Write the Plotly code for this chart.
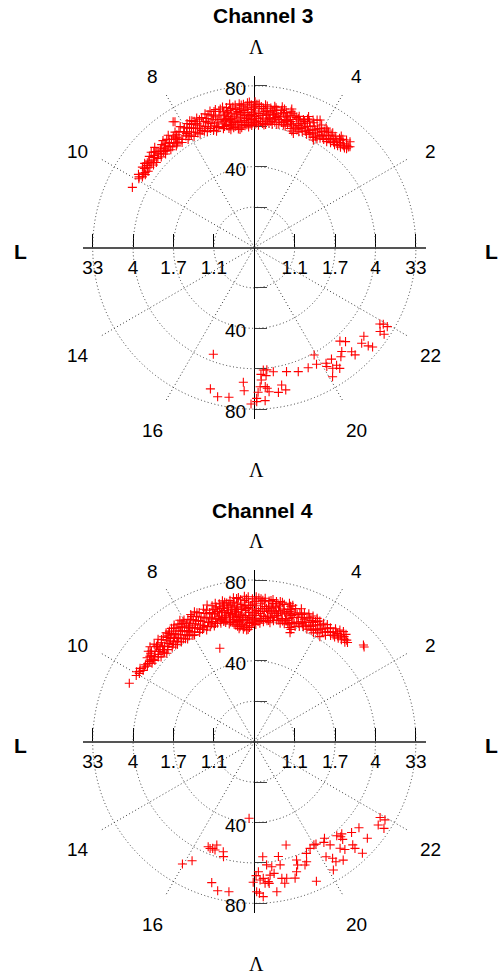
import numpy as np
import plotly.graph_objects as go

W, H = 502, 971
S = 2.02                      # pixels per degree of latitude
CENTERS = [(254.3, 247.5), (254.3, 741.7)]   # pixel positions of the two pole centres
AX_LIM = 85
GRID_LIM = 88

titles = ["Channel 3", "Channel 4"]
lat_tickvals = [-80, -60, -40, -20, 20, 40, 60, 80]
l_ticktext = ["33", "4", "1.7", "1.1", "1.1", "1.7", "4", "33"]
lat_ticktext = ["80", "", "40", "", "", "40", "", "80"]
mlt_labels = [2, 4, 8, 10, 14, 16, 20, 22]
grid_lats = [20, 40, 60, 80]
grid_mlts = [2, 4, 8, 10, 14, 16, 20, 22]

# (MLT hours, invariant latitude deg)
ch3_arc = [(10.25,67.3),(9.95,66.5),(9.85,65.5),(9.85,67.8),(9.75,66.1),(9.75,64.9),(9.62,64.7),(9.62,67.0),(9.62,68.2),(9.5,65.2),(9.5,66.8),(9.5,68.4),(9.38,64.5),(9.38,66.0),(9.38,67.5),(9.27,66.1),(9.27,64.2),(9.27,68.8),(9.15,65.0),(9.15,67.2),(9.15,69.5),(9.05,64.3),(9.05,66.4),(9.05,68.0),(8.99,69.9),(8.99,65.5),(8.9,65.4),(8.9,67.3),(8.9,63.8),(8.8,66.2),(8.8,68.5),(8.8,64.6),(8.7,63.6),(8.7,65.7),(8.7,67.9),(8.7,69.6),(8.6,64.2),(8.6,66.8),(8.6,68.9),(8.5,63.4),(8.5,65.3),(8.5,67.4),(8.5,70.0),(8.4,64.6),(8.4,66.5),(8.4,68.2),(8.3,63.1),(8.3,65.8),(8.3,67.7),(8.3,69.3),(8.19,74.1),(8.15,73.6),(8.1,62.7),(8.1,64.8),(8.1,66.9),(8.1,70.2),(8.02,66.4),(8.02,63.9),(8.02,68.6),(7.9,62.5),(7.9,65.1),(7.9,67.3),(7.9,69.8),(7.8,64.0),(7.8,66.2),(7.8,68.4),(7.8,70.4),(7.7,62.3),(7.7,65.5),(7.7,67.8),(7.7,69.2),(7.6,63.4),(7.6,66.0),(7.6,70.1),(7.47,67.2),(7.47,64.6),(7.47,61.9),(7.47,69.4),(7.35,62.8),(7.35,65.8),(7.35,68.1),(7.35,70.5),(7.2,60.5),(7.2,63.6),(7.2,66.5),(7.2,69.0),(7.2,71.0),(7.1,61.9),(7.1,64.7),(7.1,67.4),(7.1,70.2),(6.97,67.8),(6.97,60.8),(6.97,63.2),(6.97,65.5),(6.97,69.7),(6.85,62.0),(6.85,64.3),(6.85,66.9),(6.85,68.8),(6.85,71.3),(6.75,59.4),(6.75,61.3),(6.75,63.7),(6.75,66.2),(6.75,68.3),(6.75,70.6),(6.65,60.2),(6.65,62.8),(6.65,65.0),(6.65,67.5),(6.65,69.8),(6.65,72.0),(6.51,71.2),(6.51,59.2),(6.51,61.6),(6.51,64.2),(6.51,66.6),(6.51,68.9),(6.4,59.6),(6.4,62.3),(6.4,64.8),(6.4,67.2),(6.4,69.4),(6.4,71.5),(6.29,71.1),(6.29,60.5),(6.29,63.1),(6.29,65.6),(6.29,68.1),(6.29,70.1),(6.18,59.8),(6.18,62.0),(6.18,64.6),(6.18,66.9),(6.18,69.2),(6.18,71.7),(6.08,60.4),(6.08,63.3),(6.08,65.9),(6.08,68.3),(6.08,70.6),(5.98,61.0),(5.98,62.7),(5.98,64.9),(5.98,67.6),(5.98,69.9),(5.98,72.1),(5.87,60.6),(5.87,63.8),(5.87,66.3),(5.87,68.7),(5.87,71.0),(5.75,69.0),(5.75,61.6),(5.75,64.2),(5.75,66.6),(5.65,61.2),(5.65,63.5),(5.65,65.8),(5.65,68.2),(5.65,70.3),(5.55,62.0),(5.55,64.5),(5.55,67.1),(5.55,69.5),(5.45,61.5),(5.45,63.9),(5.45,66.4),(5.45,68.6),(5.45,70.6),(5.38,69.0),(5.38,62.8),(5.38,65.2),(5.38,67.4),(5.25,62.2),(5.25,64.6),(5.25,66.9),(5.25,69.2),(5.25,71.0),(5.11,62.3),(5.11,64.2),(5.11,66.4),(5.11,68.7),(4.99,71.0),(4.99,63.0),(4.99,65.5),(4.99,67.8),(4.99,69.9),(4.88,61.5),(4.88,63.8),(4.88,66.2),(4.88,68.4),(4.74,59.7),(4.74,62.6),(4.74,65.0),(4.74,67.3),(4.74,68.6),(4.6,63.2),(4.6,61.4),(4.6,65.7),(4.6,67.9),(4.5,62.0),(4.5,64.4),(4.5,66.6),(4.5,68.8),(4.5,70.2),(4.35,69.5),(4.35,61.8),(4.35,63.9),(4.35,66.1),(4.25,62.5),(4.25,64.8),(4.25,67.0),(4.25,70.3),(4.18,71.0),(4.18,63.4),(4.18,65.6),(4.08,60.7),(4.08,62.9),(4.08,65.1),(4.08,67.3),(4.08,69.2),(3.93,63.1),(3.93,65.0),(3.93,67.2),(3.93,69.0),(3.82,63.6),(3.82,65.8),(3.82,67.9),(3.71,63.5),(3.71,65.4),(3.71,67.4),(3.71,68.8),(3.6,64.2),(3.6,66.3),(3.6,68.1),(3.47,66.4),(3.47,64.6),(3.47,68.6),(3.47,70.0),(3.38,65.1),(3.38,67.1),(3.38,69.2),(3.29,70.1),(3.29,65.5),(3.29,67.6),(3.19,70.6),(3.19,66.5),(3.19,68.3),(3.13,68.2),(3.13,66.9),(3.1,68.8)]

ch3_arc_extra = [(9.9,66.9),(9.7,65.6),(9.56,66.0),(9.44,67.6),(9.33,65.3),(9.2,66.6),(9.1,68.6),(8.95,66.8),(8.85,64.9),(8.75,67.0),(8.65,65.2),(8.55,68.1),(8.45,64.0),(8.35,66.9),(8.25,64.4),(8.2,68.5),(8.05,65.6),(7.95,63.8),(7.95,68.2),(7.85,66.8),(7.75,63.2),(7.75,69.9),(7.65,64.7),(7.65,67.4),(7.55,62.6),(7.55,68.8),(7.4,66.9),(7.4,63.9),(7.28,61.4),(7.28,65.0),(7.28,69.6),(7.15,62.7),(7.15,68.2),(7.05,66.0),(7.05,71.0),(6.92,61.7),(6.92,64.4),(6.92,70.6),(6.8,60.3),(6.8,65.3),(6.8,67.6),(6.7,62.0),(6.7,64.5),(6.7,69.0),(6.58,60.8),(6.58,63.3),(6.58,65.8),(6.58,70.4),(6.46,58.9),(6.46,63.0),(6.46,67.9),(6.35,61.1),(6.35,66.3),(6.35,70.8),(6.23,60.9),(6.23,63.9),(6.23,68.6),(6.13,61.2),(6.13,65.3),(6.13,72.0),(6.03,62.0),(6.03,66.7),(6.03,69.4),(5.93,61.7),(5.93,64.0),(5.93,70.9),(5.81,62.5),(5.81,65.4),(5.81,69.9),(5.7,60.8),(5.7,67.5),(5.7,70.9),(5.6,63.0),(5.6,66.0),(5.5,62.9),(5.5,68.0),(5.41,64.5),(5.41,70.0),(5.31,61.9),(5.31,66.0),(5.18,63.4),(5.18,68.0),(5.18,70.2),(5.05,62.0),(5.05,64.8),(5.05,67.0),(4.93,64.9),(4.93,69.2),(4.81,60.6),(4.81,63.2),(4.81,67.6),(4.67,62.0),(4.67,64.3),(4.67,66.6),(4.55,63.5),(4.55,67.2),(4.42,62.9),(4.42,65.4),(4.42,68.0),(4.3,63.1),(4.3,68.4),(4.13,61.8),(4.13,66.5),(4.0,62.0),(4.0,64.2),(4.0,66.4),(3.88,64.5),(3.88,68.4),(3.76,66.6),(3.65,65.2),(3.54,65.4),(3.54,67.3),(3.42,68.1),(3.33,66.2),(3.24,67.0)]

ch3_night = [(16.6,56.6),(16.85,73.3),(17.08,76.1),(17.36,75.2),(17.69,66.9),(17.73,71.1),(17.92,77.5),(18.06,74.7),(18.06,76.3),(18.1,71.7),(18.16,69.0),(18.2,65.7),(18.2,62.9),(18.28,60.8),(18.35,63.7),(18.3,69.1),(18.35,70.0),(18.27,76.0),(18.39,71.8),(18.58,62.2),(18.39,60.9),(18.63,72.7),(18.75,69.4),(18.83,72.2),(18.97,63.5),(19.3,65.2),(19.61,65.2),(19.87,65.5),(19.94,60.9),(20.12,67.4),(20.09,69.0),(20.31,67.2),(20.2,71.3),(20.08,74.8),(20.33,71.1),(20.35,73.3),(20.56,69.0),(20.67,67.3),(20.83,62.8),(20.94,64.9),(20.87,70.6),(20.88,72.9),(21.22,71.2),(21.4,69.8),(21.28,74.5),(21.33,76.5),(21.91,72.8),(21.95,74.3),(21.95,76.6),(21.75,74.9),(21.75,77.3)]

ch4_arc = [(10.33,68.3),(10.05,67.0),(9.95,67.8),(9.95,66.2),(9.82,67.2),(9.82,65.4),(9.65,66.0),(9.65,64.8),(9.5,63.8),(9.5,65.2),(9.46,65.6),(9.46,67.4),(9.38,64.4),(9.38,66.8),(9.38,63.6),(9.3,67.4),(9.3,65.0),(9.3,69.0),(9.18,69.8),(9.18,62.4),(9.18,64.2),(9.18,66.4),(9.05,63.0),(9.05,65.3),(9.05,67.6),(9.05,69.2),(8.98,61.6),(8.98,64.0),(8.98,66.3),(8.88,62.5),(8.88,64.9),(8.88,67.2),(8.88,69.6),(8.73,68.8),(8.73,62.0),(8.73,64.4),(8.73,66.5),(8.6,61.8),(8.6,63.6),(8.6,65.8),(8.6,67.8),(8.6,69.4),(8.5,62.6),(8.5,64.9),(8.5,67.1),(8.5,69.0),(8.41,69.5),(8.41,61.2),(8.41,63.5),(8.41,66.0),(8.3,62.0),(8.3,64.2),(8.3,66.5),(8.3,68.3),(8.3,70.1),(8.2,60.6),(8.2,63.1),(8.2,65.4),(8.2,67.6),(8.2,69.4),(8.1,61.5),(8.1,63.9),(8.1,66.2),(8.1,68.6),(8.1,70.5),(8.0,60.8),(8.0,62.7),(8.0,65.0),(8.0,67.3),(8.0,69.6),(7.9,61.9),(7.9,64.3),(7.9,66.8),(7.9,68.9),(7.77,69.2),(7.77,60.5),(7.77,62.8),(7.77,65.2),(7.77,67.5),(7.77,70.4),(7.65,61.2),(7.65,63.6),(7.65,66.0),(7.65,68.3),(7.65,70.8),(7.54,60.1),(7.54,62.5),(7.54,64.8),(7.54,67.1),(7.54,69.5),(7.4,61.0),(7.4,63.3),(7.4,65.6),(7.4,68.0),(7.4,70.2),(7.35,49.3),(7.27,71.6),(7.27,60.6),(7.27,62.9),(7.27,65.2),(7.27,67.7),(7.15,61.4),(7.15,63.8),(7.15,66.3),(7.15,68.7),(7.15,70.5),(7.05,60.9),(7.05,62.2),(7.05,64.6),(7.05,67.0),(7.05,69.3),(7.05,71.2),(6.95,68.9),(6.95,61.4),(6.95,63.5),(6.95,65.9),(6.95,70.4),(6.85,61.8),(6.85,64.2),(6.85,66.6),(6.85,69.0),(6.85,71.5),(6.75,60.5),(6.75,62.8),(6.75,65.2),(6.75,67.6),(6.75,70.0),(6.65,59.0),(6.65,61.3),(6.65,63.8),(6.65,66.2),(6.65,68.6),(6.65,71.0),(6.55,57.8),(6.55,60.2),(6.55,62.6),(6.55,65.0),(6.55,67.4),(6.55,69.8),(6.55,72.0),(6.47,57.4),(6.47,59.6),(6.47,61.9),(6.47,64.3),(6.47,66.7),(6.47,69.1),(6.47,71.4),(6.37,56.0),(6.37,58.2),(6.37,60.8),(6.37,63.4),(6.37,65.8),(6.37,68.2),(6.37,70.6),(6.26,55.4),(6.26,57.5),(6.26,60.0),(6.26,62.6),(6.26,65.1),(6.26,67.6),(6.26,70.0),(6.26,72.2),(6.16,71.8),(6.16,56.6),(6.16,59.0),(6.16,61.5),(6.16,64.0),(6.16,66.5),(6.16,69.1),(6.05,58.5),(6.05,60.8),(6.05,63.2),(6.05,65.7),(6.05,68.1),(6.05,70.7),(5.95,58.0),(5.95,60.2),(5.95,62.5),(5.95,64.9),(5.95,67.3),(5.95,69.6),(5.95,71.8),(5.82,58.7),(5.82,61.0),(5.82,63.5),(5.82,66.0),(5.82,68.4),(5.82,70.8),(5.71,71.2),(5.71,59.6),(5.71,62.2),(5.71,64.7),(5.71,67.1),(5.71,69.5),(5.6,60.2),(5.6,62.6),(5.6,65.0),(5.6,67.5),(5.6,70.0),(5.5,59.4),(5.5,61.8),(5.5,64.2),(5.5,66.6),(5.5,69.0),(5.5,71.0),(5.4,60.6),(5.4,63.0),(5.4,65.4),(5.4,67.9),(5.4,70.2),(5.3,61.2),(5.3,63.5),(5.3,65.9),(5.3,68.3),(5.3,70.6),(5.18,60.0),(5.18,62.4),(5.18,64.8),(5.18,67.2),(5.18,69.6),(5.05,70.7),(5.05,60.3),(5.05,62.7),(5.05,65.2),(5.05,67.6),(4.95,61.0),(4.95,63.4),(4.95,65.8),(4.95,68.1),(4.95,70.2),(4.85,59.2),(4.85,61.8),(4.85,64.3),(4.85,66.7),(4.85,69.0),(4.79,56.8),(4.79,58.5),(4.7,60.5),(4.7,62.9),(4.7,65.3),(4.7,67.6),(4.7,69.8),(4.58,61.3),(4.58,63.7),(4.58,66.0),(4.58,68.3),(4.46,61.9),(4.46,64.2),(4.46,66.5),(4.46,68.8),(4.33,68.7),(4.33,61.5),(4.33,63.8),(4.33,66.2),(4.2,62.0),(4.2,64.4),(4.2,66.7),(4.2,68.5),(4.1,61.4),(4.1,63.6),(4.1,65.9),(4.1,68.0),(3.98,67.9),(3.98,62.3),(3.98,64.6),(3.87,61.3),(3.87,63.9),(3.87,66.2),(3.87,68.3),(3.75,63.4),(3.75,65.6),(3.75,67.8),(3.62,64.7),(3.62,66.9),(3.62,68.9),(3.57,65.7),(3.5,65.3),(3.5,67.5),(3.5,69.6),(3.4,70.1),(3.4,66.0),(3.4,68.0),(3.3,66.4),(3.3,68.4),(3.3,69.9),(3.18,68.0),(3.18,66.6),(3.12,67.4),(2.77,72.2),(2.72,71.8)]

ch4_arc_extra = [(9.9,66.6),(9.72,65.8),(9.58,65.4),(9.42,64.8),(9.34,66.2),(9.24,63.4),(9.24,67.9),(9.12,65.2),(9.0,62.8),(9.0,67.8),(8.93,65.4),(8.82,63.7),(8.82,68.3),(8.66,62.8),(8.66,65.0),(8.66,67.3),(8.55,61.4),(8.55,68.3),(8.45,64.0),(8.45,66.6),(8.36,62.6),(8.36,68.9),(8.25,61.3),(8.25,65.9),(8.15,62.3),(8.15,67.2),(8.05,64.0),(8.05,69.0),(7.95,60.6),(7.95,65.7),(7.84,63.6),(7.84,68.2),(7.72,61.8),(7.72,66.4),(7.6,62.1),(7.6,65.4),(7.6,69.8),(7.47,61.5),(7.47,66.2),(7.33,62.0),(7.33,64.6),(7.33,69.2),(7.21,61.6),(7.21,66.6),(7.1,63.2),(7.1,68.1),(7.0,62.6),(7.0,66.5),(6.9,60.7),(6.9,63.0),(6.9,67.9),(6.8,59.6),(6.8,65.5),(6.8,70.6),(6.7,60.0),(6.7,64.5),(6.7,69.3),(6.6,58.5),(6.6,63.5),(6.6,68.0),(6.51,56.5),(6.51,60.6),(6.51,66.0),(6.42,58.6),(6.42,63.0),(6.42,71.8),(6.32,57.0),(6.32,61.9),(6.32,67.0),(6.21,55.6),(6.21,60.4),(6.21,66.0),(6.21,70.9),(6.1,57.4),(6.1,62.4),(6.1,67.4),(6.0,59.3),(6.0,64.1),(6.0,69.3),(5.88,59.6),(5.88,64.6),(5.88,71.2),(5.77,61.0),(5.77,65.8),(5.77,70.1),(5.65,61.4),(5.65,66.3),(5.55,60.4),(5.55,65.6),(5.55,70.4),(5.45,62.2),(5.45,67.0),(5.35,64.6),(5.35,69.3),(5.24,61.3),(5.24,66.0),(5.24,70.4),(5.12,61.4),(5.12,65.8),(5.0,62.2),(5.0,66.8),(5.0,69.4),(4.9,60.4),(4.9,65.2),(4.76,61.8),(4.76,66.5),(4.64,62.4),(4.64,67.2),(4.52,63.0),(4.52,65.5),(4.4,62.8),(4.4,67.4),(4.27,63.4),(4.27,65.7),(4.15,62.7),(4.15,67.3),(4.04,63.4),(4.04,66.4),(3.93,65.0),(3.81,64.6),(3.81,66.8),(3.68,65.9),(3.56,67.8),(3.45,66.8),(3.35,67.4),(3.24,67.6)]

ch4_night = [(17.74,38.0),(16.58,56.7),(16.5,57.2),(16.67,57.0),(16.42,56.8),(16.67,54.4),(16.95,56.6),(17.0,58.9),(15.97,70.2),(16.16,66.5),(16.88,72.9),(17.08,76.0),(17.36,75.3),(18.28,57.1),(17.97,69.6),(18.05,66.3),(18.12,64.4),(18.16,68.5),(18.25,67.8),(18.29,70.3),(18.38,61.3),(18.38,69.6),(18.06,74.3),(18.13,75.0),(18.22,76.8),(18.45,66.5),(18.53,62.5),(18.57,65.9),(18.4,70.5),(18.57,75.1),(18.79,58.1),(18.79,62.3),(18.76,69.0),(18.81,71.7),(19.14,53.5),(18.89,69.5),(19.11,70.5),(19.2,67.7),(19.29,64.7),(19.31,62.2),(19.49,66.0),(19.57,64.8),(19.67,61.0),(19.84,59.6),(20.0,59.0),(19.6,75.6),(20.31,60.6),(20.13,67.1),(20.42,63.4),(20.26,69.5),(20.11,74.6),(20.28,71.9),(20.59,67.7),(20.82,63.6),(20.9,62.9),(20.46,73.3),(20.67,69.7),(21.13,65.9),(20.91,70.6),(20.89,72.6),(21.37,67.1),(20.94,76.9),(21.3,73.6),(21.93,72.7),(21.94,75.4),(21.74,73.9),(21.75,77.2),(20.4,59.1),(20.75,61.9),(20.81,65.2),(20.07,59.2)]

panels = [ch3_arc + ch3_arc_extra + ch3_night, ch4_arc + ch4_arc_extra + ch4_night]

SANS = "Liberation Sans, Arial, sans-serif"
SERIF = "Liberation Serif, Times New Roman, serif"
GRID_COLOR = "#3a3a3a"


def fx(px):
    return px / W


def fy(py):
    return 1 - py / H


fig = go.Figure()
annotations = []
layout = dict(width=W, height=H, autosize=False, margin=dict(l=0, r=0, t=0, b=0),
              paper_bgcolor="white", plot_bgcolor="rgba(0,0,0,0)", showlegend=False)

for i, pts in enumerate(panels):
    cx, cy = CENTERS[i]
    sfx = "" if i == 0 else str(i + 1)
    xa, ya = "x" + sfx, "y" + sfx
    mlt = np.array([p[0] for p in pts])
    lat = np.array([p[1] for p in pts])
    ra, rg = AX_LIM * S, GRID_LIM * S

    # cartesian axes through the centre
    fig.add_trace(go.Scatter(x=[None], y=[None], xaxis=xa, yaxis=ya,
                             showlegend=False, hoverinfo="skip"))
    layout["xaxis" + sfx] = dict(
        domain=[fx(cx - ra), fx(cx + ra)], range=[-AX_LIM, AX_LIM],
        anchor="free", position=fy(cy), showline=True, linecolor="#555555", linewidth=1.5,
        ticks="inside", ticklen=13, tickwidth=1, tickcolor="black", ticklabelstandoff=3,
        tickvals=lat_tickvals, ticktext=l_ticktext, showgrid=False, zeroline=False,
        tickfont=dict(family=SANS, size=19, color="black"), fixedrange=True)
    layout["yaxis" + sfx] = dict(
        domain=[fy(cy + ra), fy(cy - ra)], range=[-AX_LIM, AX_LIM],
        anchor="free", position=fx(cx), showline=True, linecolor="black", linewidth=1,
        ticks="inside", ticklen=12, tickwidth=1, tickcolor="#444444",
        tickvals=lat_tickvals, showticklabels=False, showgrid=False, zeroline=False,
        fixedrange=True)
    # latitude labels to the left of the vertical axis, at the tick values
    for v, t in zip(lat_tickvals, lat_ticktext):
        if t:
            annotations.append(dict(x=-3.2, y=v - 1.3, xref=xa, yref=ya, text=t,
                                    showarrow=False, xanchor="right", yanchor="middle",
                                    font=dict(family=SANS, size=19, color="black")))

    # polar grid + data
    pname = "polar" + sfx
    fig.add_trace(go.Scatterpolar(
        r=lat, theta=mlt * 15.0, mode="markers", subplot=pname, showlegend=False,
        hoverinfo="skip",
        marker=dict(symbol="cross-thin", size=6.5, color="red", line=dict(color="red", width=1.1))))
    layout[pname] = dict(
        domain=dict(x=[fx(cx - rg), fx(cx + rg)], y=[fy(cy + rg), fy(cy - rg)]),
        bgcolor="rgba(0,0,0,0)",
        radialaxis=dict(range=[0, GRID_LIM], tickvals=grid_lats, showticklabels=False, ticks="",
                        showline=False, gridcolor=GRID_COLOR, gridwidth=1, griddash="1px,2.5px"),
        angularaxis=dict(rotation=0, direction="counterclockwise", thetaunit="degrees",
                         tickvals=[m * 15 for m in grid_mlts], showticklabels=False, ticks="",
                         showline=False, gridcolor=GRID_COLOR, gridwidth=1, griddash="1px,2.5px"))

    # MLT labels
    for m in mlt_labels:
        a = np.deg2rad(m * 15)
        px = cx + 101 * S * np.cos(a)
        py = cy - 101 * S * np.sin(a) + 6
        annotations.append(dict(x=fx(px), y=fy(py), xref="paper", yref="paper",
                                text=str(m), showarrow=False, xanchor="center", yanchor="middle",
                                font=dict(family=SANS, size=19, color="black")))
    # titles and axis names
    annotations.append(dict(x=fx(cx + 8.4), y=fy(cy - 231.5), xref="paper", yref="paper",
                            text="<b>" + titles[i] + "</b>", showarrow=False,
                            xanchor="center", yanchor="middle",
                            font=dict(family=SANS, size=21, color="black")))
    for dy in (-200.8, 222.5):
        annotations.append(dict(x=fx(cx + 2.4), y=fy(cy + dy), xref="paper", yref="paper",
                                text="Λ", showarrow=False, xanchor="center", yanchor="middle",
                                font=dict(family=SERIF, size=20, color="black")))
    for dx in (-233.6, 237.4):
        annotations.append(dict(x=fx(cx + dx), y=fy(cy + 4.2), xref="paper", yref="paper",
                                text="<b>L</b>", showarrow=False, xanchor="center", yanchor="middle",
                                font=dict(family=SANS, size=21, color="black")))

layout["annotations"] = annotations
fig.update_layout(**layout)
fig.write_html("out.html", config={"displayModeBar": False},
               post_script="document.body.style.margin='0';document.body.style.overflow='hidden';")
